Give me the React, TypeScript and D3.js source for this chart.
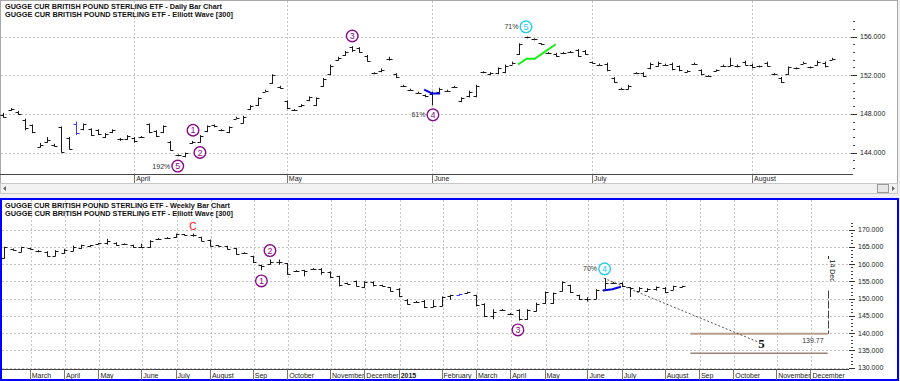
import React from 'react';
import * as d3 from 'd3';

// ---------- DAILY (top panel) : [open, high, low, close] ----------
const dailyOHLC: [number, number, number, number][] = [
  [147.9, 148.1, 147.6, 147.7], [148.4, 148.6, 148.3, 148.5], [148.2, 148.3, 147.9, 148.0], [147.4, 147.5, 146.3, 146.5],
  [146.8, 146.9, 146.0, 146.1], [144.6, 145.0, 144.5, 144.8], [145.1, 145.6, 145.0, 145.3], [144.8, 144.9, 144.6, 144.7],
  [146.6, 146.7, 144.0, 144.1], [145.5, 145.6, 144.3, 144.4], [147.0, 147.2, 145.8, 146.0], [146.4, 147.0, 146.3, 146.9],
  [146.4, 146.5, 145.7, 145.8], [146.3, 146.4, 145.8, 145.9], [145.6, 146.0, 145.5, 145.9], [146.1, 146.4, 146.0, 146.3],
  [145.4, 145.5, 145.2, 145.4], [145.4, 145.8, 145.3, 145.7], [145.5, 145.6, 145.0, 145.2], [145.6, 145.7, 145.5, 145.6],
  [146.9, 147.0, 146.0, 146.1], [146.2, 146.3, 145.6, 145.7], [146.1, 146.8, 146.0, 146.7], [145.1, 145.2, 144.2, 144.3],
  [143.7, 143.8, 143.6, 143.7], [143.6, 144.0, 143.5, 143.9], [145.0, 145.2, 144.9, 145.1], [145.1, 145.8, 145.0, 145.7],
  [146.2, 146.8, 146.1, 146.7], [146.8, 146.9, 146.6, 146.7], [146.3, 146.4, 146.2, 146.3], [146.1, 146.7, 146.0, 146.6],
  [147.5, 147.7, 147.5, 147.6], [147.1, 147.8, 147.0, 147.7], [148.5, 148.9, 148.4, 148.8], [148.9, 149.7, 148.8, 149.6],
  [150.3, 150.5, 150.3, 150.4], [151.2, 152.1, 151.1, 152.0], [150.8, 150.9, 150.6, 150.7], [149.3, 149.4, 148.5, 148.6],
  [148.4, 148.5, 148.3, 148.4], [148.8, 149.0, 148.7, 148.9], [149.4, 149.8, 149.3, 149.7], [148.9, 149.7, 148.8, 149.6],
  [150.9, 151.7, 150.8, 151.6], [152.1, 153.1, 152.0, 153.0], [153.6, 153.9, 153.5, 153.8], [154.1, 154.5, 154.0, 154.4],
  [154.9, 155.0, 154.4, 154.6], [154.8, 154.9, 154.3, 154.4], [154.0, 154.1, 153.4, 153.5], [152.2, 152.3, 152.1, 152.2],
  [152.4, 152.7, 152.3, 152.5], [153.7, 153.9, 153.5, 153.7], [152.1, 152.2, 151.7, 151.8], [150.9, 151.0, 150.8, 150.9],
  [150.5, 150.6, 150.4, 150.5], [150.2, 150.3, 150.1, 150.2], [149.9, 150.0, 149.7, 149.8], [150.1, 150.3, 148.9, 150.2],
  [150.3, 150.7, 150.2, 150.6], [150.4, 150.5, 150.3, 150.4], [150.8, 150.9, 150.7, 150.8], [149.3, 149.7, 149.2, 149.6],
  [149.8, 150.4, 149.7, 150.3], [149.8, 151.0, 149.7, 150.9], [152.3, 152.4, 152.2, 152.3], [152.1, 152.3, 152.0, 152.2],
  [152.2, 152.8, 152.1, 152.7], [152.3, 153.1, 152.2, 153.0], [153.1, 153.4, 153.1, 153.3], [154.2, 155.3, 154.1, 155.2],
  [155.9, 156.0, 155.8, 155.9], [155.7, 155.8, 155.6, 155.7], [155.3, 155.3, 155.1, 155.2], [154.3, 154.4, 154.2, 154.3],
  [154.2, 154.3, 153.9, 154.0], [154.3, 154.4, 154.2, 154.3], [154.4, 154.5, 154.3, 154.4], [154.6, 154.7, 153.9, 154.0],
  [154.5, 154.6, 154.1, 154.2], [153.4, 153.4, 153.2, 153.3], [153.1, 153.2, 153.0, 153.1], [153.2, 153.3, 152.4, 152.5],
  [151.7, 151.8, 151.2, 151.3], [150.6, 150.7, 150.5, 150.6], [150.6, 151.0, 150.5, 150.9], [152.2, 152.3, 152.1, 152.2],
  [152.2, 152.3, 151.8, 151.9], [152.7, 153.3, 152.6, 153.2], [153.0, 153.4, 152.9, 153.3], [153.1, 153.2, 153.0, 153.1],
  [153.2, 153.3, 152.5, 152.6], [152.9, 153.0, 152.4, 152.5], [152.3, 152.5, 152.3, 152.4], [153.2, 153.3, 153.1, 153.2],
  [152.5, 152.6, 152.0, 152.1], [151.9, 152.0, 151.9, 151.9], [152.4, 152.6, 152.4, 152.5], [153.0, 153.1, 152.9, 153.0],
  [153.0, 153.8, 152.9, 153.1], [153.0, 153.1, 152.8, 152.9], [153.4, 153.5, 153.0, 153.1], [153.1, 153.2, 152.7, 152.8],
  [152.9, 153.0, 152.8, 152.9], [153.3, 153.4, 152.9, 153.0], [152.1, 152.2, 152.0, 152.1], [151.7, 151.8, 151.2, 151.3],
  [152.1, 152.9, 152.0, 152.8], [152.7, 152.8, 152.6, 152.7], [153.2, 153.4, 153.2, 153.3], [152.8, 152.9, 152.7, 152.8],
  [153.1, 153.5, 153.0, 153.4], [153.3, 153.4, 152.8, 152.9], [153.6, 153.8, 153.6, 153.7],
];
const dailyBlueBar = 10;
const dailyMonths = ['April', 'May', 'June', 'July', 'August'];
const dailyMonthIdx = [18, 39, 59, 81, 103];
const dailyTicks = [144, 148, 152, 156];
const dailyBlueLine: [number, number][] = [[57.9, 150.5], [59, 150.1], [60.1, 150.1]];
const dailyGreenLine: [number, number][] = [[70.8, 153.1], [72.0, 153.7], [73.1, 153.7], [76.0, 155.2]];
const dailyWaves = [
  { label: '1', i: 26.1, p: 146.3, color: 'purple' },
  { label: '2', i: 27.05, p: 144.0, color: 'purple' },
  { label: '5', i: 24.0, p: 142.6, color: 'purple', pct: '192%' },
  { label: '3', i: 48.0, p: 156.05, color: 'purple' },
  { label: '4', i: 59.1, p: 147.9, color: 'purple', pct: '61%' },
  { label: '5', i: 71.9, p: 157.0, color: 'cyan', pct: '71%' },
];

// ---------- WEEKLY (bottom panel) : [open, high, low, close] ----------
const weeklyOHLC: [number, number, number, number][] = [
  [161.6, 165.0, 161.5, 164.9], [164.3, 164.5, 163.9, 164.1], [163.5, 165.0, 163.4, 164.8], [164.5, 164.7, 164.1, 164.3],
  [163.7, 164.0, 163.4, 163.8], [163.5, 163.7, 162.2, 162.4], [162.4, 164.0, 162.2, 163.8], [163.2, 164.4, 163.0, 164.2],
  [163.9, 165.3, 163.7, 165.0], [164.6, 165.6, 164.4, 165.4], [165.2, 165.5, 165.0, 165.4], [165.8, 166.1, 165.6, 166.0],
  [166.0, 167.3, 165.6, 166.8], [166.1, 166.3, 165.3, 165.5], [165.9, 166.0, 165.6, 165.8], [165.4, 165.6, 164.7, 164.9],
  [164.9, 165.9, 164.7, 165.0], [164.9, 166.9, 164.7, 166.8], [167.2, 167.5, 167.0, 167.3], [167.5, 167.8, 167.4, 167.6],
  [167.8, 168.8, 167.6, 168.6], [168.6, 168.7, 168.4, 168.5], [168.4, 168.8, 167.9, 168.3], [167.8, 167.9, 166.6, 166.8],
  [166.9, 167.1, 165.1, 165.3], [165.4, 165.5, 165.1, 165.2], [165.1, 165.3, 164.2, 164.4], [164.5, 164.7, 162.7, 162.9],
  [163.3, 163.4, 163.0, 163.2], [162.2, 162.4, 160.3, 160.6], [159.6, 159.8, 158.2, 159.5], [159.9, 161.3, 159.8, 160.6],
  [160.5, 161.3, 159.8, 160.6], [160.2, 160.3, 156.9, 157.2], [158.0, 158.2, 157.7, 157.9], [158.2, 158.3, 156.4, 158.1],
  [158.6, 158.8, 158.3, 158.5], [158.6, 158.8, 156.9, 157.8], [157.7, 157.9, 155.9, 156.2], [156.4, 156.6, 153.5, 153.8],
  [154.4, 154.6, 154.1, 154.3], [155.0, 155.2, 153.5, 153.7], [153.3, 155.0, 153.0, 154.8], [154.8, 155.0, 153.5, 154.0],
  [153.8, 154.0, 153.5, 153.7], [153.2, 153.3, 152.0, 152.3], [152.8, 153.0, 150.4, 150.6], [149.6, 149.8, 148.2, 148.4],
  [149.0, 149.3, 148.8, 149.1], [149.4, 149.6, 147.2, 147.5], [147.6, 149.6, 147.5, 147.7], [147.8, 150.6, 147.7, 150.4],
  [150.6, 151.1, 149.6, 150.9], [151.0, 151.4, 150.8, 151.2], [151.7, 152.0, 151.4, 151.8], [151.0, 151.1, 147.7, 148.0],
  [148.4, 148.6, 144.6, 145.0], [145.0, 146.9, 144.0, 146.2], [146.8, 147.0, 146.4, 146.6], [145.6, 145.8, 145.2, 145.5],
  [146.7, 146.9, 143.6, 144.0], [144.0, 146.9, 143.8, 146.7], [146.4, 148.8, 146.2, 148.5], [148.6, 152.0, 148.4, 151.8],
  [148.6, 151.7, 148.4, 151.5], [152.2, 155.0, 152.0, 154.7], [153.8, 154.0, 151.6, 151.9], [151.0, 151.1, 149.6, 149.8],
  [149.8, 150.4, 149.1, 150.0], [150.0, 152.7, 149.8, 152.5], [152.5, 155.9, 152.3, 154.5], [154.6, 154.8, 154.2, 154.4],
  [154.5, 154.7, 153.3, 153.5], [153.2, 153.3, 150.4, 153.0], [152.2, 153.3, 152.0, 153.1], [152.2, 153.0, 152.0, 152.8],
  [152.8, 153.5, 152.3, 153.3], [153.1, 153.3, 151.6, 151.9], [152.6, 153.7, 152.5, 153.5], [153.4, 153.7, 153.2, 153.5],
];
const weeklyBlueBar = 53;
const weeklyMonths = ['March', 'April', 'May', 'June', 'July', 'August', 'Sep', 'October', 'November', 'December', '2015',
  'February', 'March', 'April', 'May', 'June', 'July', 'August', 'Sep', 'October', 'November', 'December'];
const weeklyMonthIdx = [3, 7, 11, 16, 20, 24, 29, 33, 38, 42, 46, 51, 55, 59, 63, 68, 72, 77, 81, 85, 90, 94];
const weeklyTicks = [130, 135, 140, 145, 150, 155, 160, 165, 170];
const weeklyBlueLine: [number, number][] = [[69.8, 152.3], [70.9, 152.7], [71.9, 153.4]];
const weeklyProjection: [number, number][] = [[69.9, 155.9], [87.8, 137.5]];
const weeklyTargets = [139.77, 134.1];
const weeklyTargetSpan = [80, 96];
const weeklyDateIdx = 96;
const weeklyWaves = [
  { label: '1', i: 30.0, p: 155.1, color: 'purple' },
  { label: '2', i: 31.0, p: 163.9, color: 'purple' },
  { label: '3', i: 59.9, p: 140.9, color: 'purple' },
  { label: '4', i: 70.0, p: 158.6, color: 'cyan', pct: '70%' },
];

const FONT = "'Liberation Sans', Arial, sans-serif";
const GRID = '#c4c4c4';
const BAR = '#1a1a1a';
const PURPLE = '#8a0a8a';
const CYAN = '#22ccf0';

function Bars({ data, x, y, blue }: any) {
  return (
    <g>
      {data.map((d: [number, number, number, number], i: number) => {
        const cx = Math.round(x(i)) + 0.5;
        const col = i === blue ? '#3a3aff' : BAR;
        const yo = Math.round(y(d[0])) + 0.5;
        const yc = Math.round(y(d[3])) + 0.5;
        return (
          <g key={i} stroke={col} strokeWidth={1}>
            <line x1={cx} x2={cx} y1={y(d[1])} y2={Math.max(y(d[2]), y(d[1]) + 1.5)} />
            <line x1={cx - 3} x2={cx} y1={yo} y2={yo} />
            <line x1={cx} x2={cx + 3} y1={yc} y2={yc} />
          </g>
        );
      })}
    </g>
  );
}

function Wave({ w, x, y }: any) {
  const cx = x(w.i);
  const cy = y(w.p);
  const col = w.color === 'cyan' ? CYAN : PURPLE;
  return (
    <g>
      <circle cx={cx} cy={cy} r={5.8} fill="white" stroke={col} strokeWidth={1.4} />
      <text x={cx} y={cy + 3.2} textAnchor="middle" fontSize={9} fill={col} fontFamily={FONT}>{w.label}</text>
      {w.pct && (
        <text x={cx - 7.5} y={cy + 2.5} textAnchor="end" fontSize={7} fill="#333" fontFamily={FONT}>{w.pct}</text>
      )}
    </g>
  );
}

export default function App() {
  const xD = d3.scaleLinear().domain([0, 114]).range([3.3, 832]);
  const yD = d3.scaleLinear().domain([144, 156]).range([152.5, 36.5]);
  const xW = d3.scaleLinear().domain([0, 79]).range([4, 681.8]);
  const yW = d3.scaleLinear().domain([130, 170]).range([367.5, 229.5]);

  const lineD = d3.line<[number, number]>().x(d => xD(d[0])).y(d => yD(d[1]));
  const lineW = d3.line<[number, number]>().x(d => xW(d[0])).y(d => yW(d[1]));

  const dMinor = d3.range(0, 20).map(k => 142.4 + k * 0.8);
  const wMinor = d3.range(130, 173, 1);

  const topAxisY = 174.5;
  const botAxisY = 369.5;
  const axisRight = 853;

  return (
    <svg width={900} height={381} style={{ position: 'absolute', left: 0, top: 0, display: 'block' }} fontFamily={FONT}>
      <rect x={0} y={0} width={900} height={381} fill="#f0f0f0" />
      {/* ===== TOP PANEL ===== */}
      <rect x={0.5} y={0.5} width={897} height={183} fill="white" stroke="#a8a8a8" />
      {dailyTicks.map(v => (
        <line key={'dg' + v} x1={1} x2={axisRight - 2} y1={Math.round(yD(v)) + 0.5} y2={Math.round(yD(v)) + 0.5}
          stroke={GRID} strokeDasharray="2,2" />
      ))}
      {dailyMonthIdx.map((m, k) => (
        <line key={'dv' + k} x1={Math.round(xD(m)) + 0.5} x2={Math.round(xD(m)) + 0.5} y1={1} y2={topAxisY}
          stroke={GRID} strokeDasharray="2,2" />
      ))}
      <text x={5} y={8.6} fontSize={7.2} fontWeight="bold" fill="#111" textLength={217} lengthAdjust="spacingAndGlyphs">
        GUGGE CUR BRITISH POUND STERLING ETF - Daily Bar Chart
      </text>
      <text x={5} y={17} fontSize={7.2} fontWeight="bold" fill="#111" textLength={228} lengthAdjust="spacingAndGlyphs">
        GUGGE CUR BRITISH POUND STERLING ETF - Elliott Wave [300]
      </text>
      <Bars data={dailyOHLC} x={xD} y={yD} blue={dailyBlueBar} />
      <path d={lineD(dailyBlueLine) || ''} fill="none" stroke="#0000dd" strokeWidth={2} />
      <path d={lineD(dailyGreenLine) || ''} fill="none" stroke="#11ee11" strokeWidth={2} />
      {dailyWaves.map((w, k) => <Wave key={'dw' + k} w={w} x={xD} y={yD} />)}
      {/* x axis */}
      <line x1={0} x2={axisRight} y1={topAxisY} y2={topAxisY} stroke="#444" />
      {dailyMonthIdx.map((m, k) => (
        <g key={'dm' + k}>
          <line x1={Math.round(xD(m)) + 0.5} x2={Math.round(xD(m)) + 0.5} y1={topAxisY} y2={183} stroke="#777" />
          <text x={xD(m) + 2} y={181} fontSize={7} fill="#222">{dailyMonths[k]}</text>
        </g>
      ))}
      {/* y axis */}
      {dMinor.map((v, k) => (
        <line key={'dmi' + k} x1={853} x2={855} y1={Math.round(yD(v)) + 0.5} y2={Math.round(yD(v)) + 0.5} stroke="#444" />
      ))}
      {dailyTicks.map(v => (
        <g key={'dt' + v}>
          <line x1={851} x2={857} y1={Math.round(yD(v)) + 0.5} y2={Math.round(yD(v)) + 0.5} stroke="#333" />
          <text x={860} y={yD(v) + 2.5} fontSize={7} fill="#222">{v.toFixed(3)}</text>
        </g>
      ))}
      {/* scrollbar */}
      <rect x={0.5} y={183.5} width={897} height={10} fill="#f2f2f2" stroke="#c8c8c8" />
      <path d="M6,186 L3,188.5 L6,191 Z" fill="#666" />
      <rect x={877.5} y={184.5} width={11} height={8} fill="#e6e6e6" stroke="#9a9a9a" />
      <path d="M892,186 L895,188.5 L892,191 Z" fill="#666" />

      {/* ===== BOTTOM PANEL ===== */}
      <rect x={1} y={199} width={897} height={181} fill="white" stroke="#0000ff" strokeWidth={2} />
      {weeklyTicks.map(v => (
        <line key={'wg' + v} x1={2} x2={849} y1={Math.round(yW(v)) + 0.5} y2={Math.round(yW(v)) + 0.5}
          stroke={GRID} strokeDasharray="2,2" />
      ))}
      {weeklyMonthIdx.map((m, k) => (
        <line key={'wv' + k} x1={Math.round(xW(m)) + 1.5} x2={Math.round(xW(m)) + 1.5} y1={200} y2={botAxisY}
          stroke={GRID} strokeDasharray="2,2" />
      ))}
      <text x={5} y={208} fontSize={7.2} fontWeight="bold" fill="#111" textLength={225} lengthAdjust="spacingAndGlyphs">
        GUGGE CUR BRITISH POUND STERLING ETF - Weekly Bar Chart
      </text>
      <text x={5} y={216.4} fontSize={7.2} fontWeight="bold" fill="#111" textLength={228} lengthAdjust="spacingAndGlyphs">
        GUGGE CUR BRITISH POUND STERLING ETF - Elliott Wave [300]
      </text>
      {/* targets */}
      {weeklyTargets.map((t, k) => (
        <line key={'tg' + k} x1={xW(weeklyTargetSpan[0])} x2={xW(weeklyTargetSpan[1])} y1={yW(t)} y2={yW(t)}
          stroke={k === 0 ? '#b89c8c' : '#9a8478'} strokeWidth={k === 0 ? 2 : 1.5} />
      ))}
      <text x={xW(weeklyTargetSpan[1]) - 4} y={yW(weeklyTargets[0]) + 9} textAnchor="end" fontSize={7} fill="#333">
        {weeklyTargets[0].toFixed(2)}
      </text>
      <line x1={Math.round(xW(weeklyDateIdx)) + 0.5} x2={Math.round(xW(weeklyDateIdx)) + 0.5}
        y1={yW(152.3)} y2={yW(weeklyTargets[0])} stroke="#444" strokeDasharray="8,2" />
      <text transform={`translate(${xW(weeklyDateIdx) + 2.5},${yW(161.3)}) rotate(90)`} fontSize={7} fill="#222">
        14 Dec
      </text>
      <line x1={Math.round(xW(weeklyDateIdx)) + 0.5} x2={Math.round(xW(weeklyDateIdx)) + 0.5}
        y1={yW(162.3)} y2={yW(161.5)} stroke="#222" />
      <path d={lineW(weeklyProjection) || ''} fill="none" stroke="#555" strokeDasharray="2,2" />
      <text x={xW(weeklyProjection[1][0]) + 1} y={yW(weeklyProjection[1][1]) + 6} fontSize={13} fontWeight="bold"
        fontFamily="'Liberation Serif', 'DejaVu Serif', serif" fill="#111">5</text>
      <Bars data={weeklyOHLC} x={xW} y={yW} blue={weeklyBlueBar} />
      <path d={lineW(weeklyBlueLine) || ''} fill="none" stroke="#0000dd" strokeWidth={2} />
      <text x={xW(22)} y={yW(171.0) + 3.5} textAnchor="middle" fontSize={10} fill="#ff0000">C</text>
      {weeklyWaves.map((w, k) => <Wave key={'ww' + k} w={w} x={xW} y={yW} />)}
      {/* x axis */}
      <line x1={2} x2={849} y1={botAxisY} y2={botAxisY} stroke="#444" />
      {weeklyMonthIdx.map((m, k) => (
        <g key={'wm' + k}>
          <line x1={Math.round(xW(m)) + 0.5} x2={Math.round(xW(m)) + 0.5} y1={botAxisY} y2={380} stroke="#777" />
          <text x={xW(m) + 2} y={377.5} fontSize={7} fill="#222" fontWeight={weeklyMonths[k] === '2015' ? 'bold' : 'normal'}>
            {weeklyMonths[k]}
          </text>
        </g>
      ))}
      {/* y axis */}
      {wMinor.map(v => (
        <line key={'wmi' + v} x1={851} x2={853} y1={Math.round(yW(v)) + 0.5} y2={Math.round(yW(v)) + 0.5} stroke="#444" />
      ))}
      {weeklyTicks.map(v => (
        <g key={'wt' + v}>
          <line x1={849} x2={855} y1={Math.round(yW(v)) + 0.5} y2={Math.round(yW(v)) + 0.5} stroke="#333" />
          <text x={858} y={yW(v) + 2.5} fontSize={7} fill="#222">{v.toFixed(3)}</text>
        </g>
      ))}
    </svg>
  );
}
